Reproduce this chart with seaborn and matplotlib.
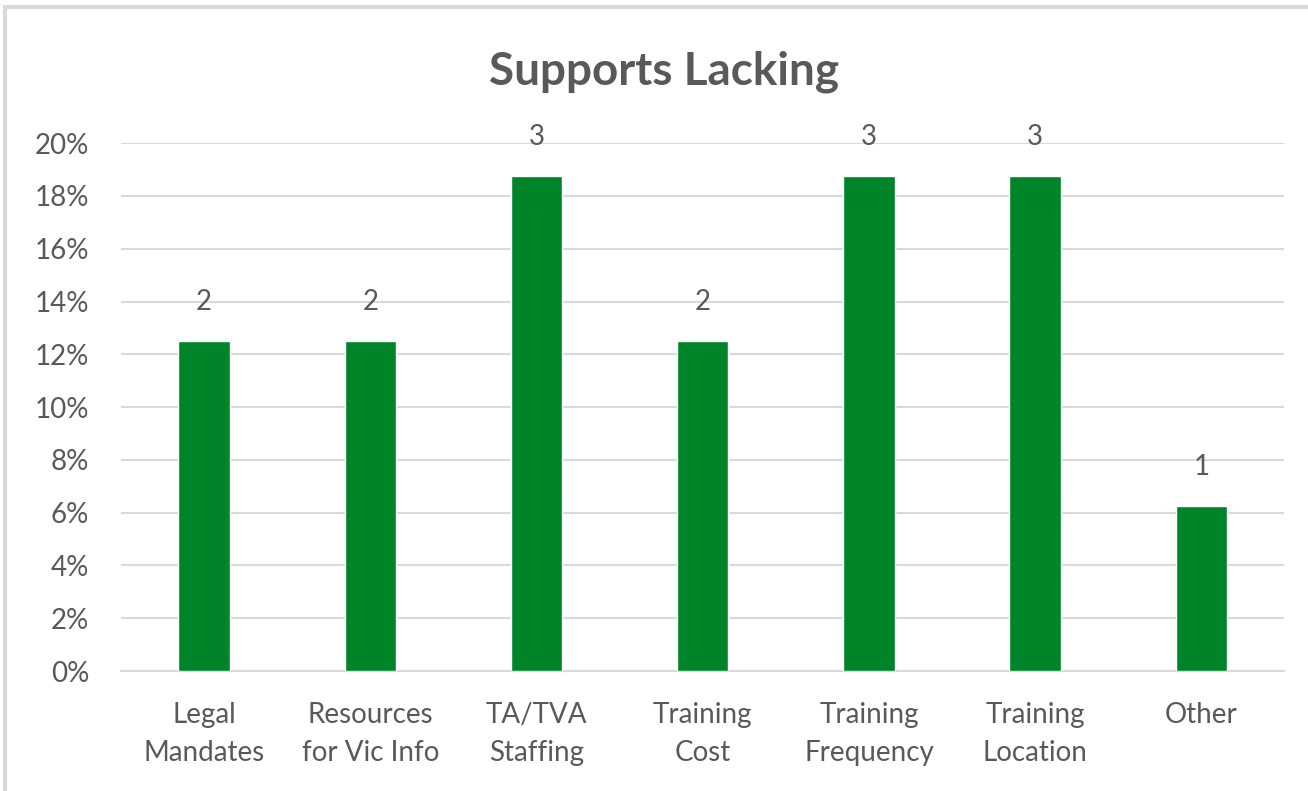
import pandas as pd
import matplotlib.pyplot as plt
import seaborn as sns
from matplotlib.ticker import PercentFormatter

categories = ["Legal\nMandates", "Resources\nfor Vic Info", "TA/TVA\nStaffing", "Training\nCost",
              "Training\nFrequency", "Training\nLocation", "Other"]
counts = [2, 2, 3, 2, 3, 3, 1]
total = 16
pct = [c / total for c in counts]

df = pd.DataFrame({"Support": categories, "Share": pct, "Count": counts})

sns.set_style("white")
plt.rcParams["font.family"] = ["Lato", "DejaVu Sans"]
grey = "#595959"

fig = plt.figure(figsize=(13.08, 7.91), dpi=100)
ax = fig.add_axes([0.0925, 0.1517, 0.8895, 0.6673])

sns.barplot(data=df, x="Support", y="Share", color="#00842A", width=0.31,
            saturation=1, ax=ax, zorder=3)

for bar, c in zip(ax.patches, counts):
    ax.annotate(str(c), (bar.get_x() + bar.get_width() / 2, bar.get_height()),
                xytext=(0, 19), textcoords="offset points", ha="center", va="bottom",
                fontsize=20, color=grey)

ax.set_ylim(0, 0.20)
ax.set_yticks([i / 100 for i in range(0, 21, 2)])
ax.yaxis.set_major_formatter(PercentFormatter(1.0, decimals=0))
ax.grid(axis="y", color="#D9D9D9", linewidth=1.5, zorder=0)
ax.set_axisbelow(True)
for s in ["top", "right", "left"]:
    ax.spines[s].set_visible(False)
ax.spines["bottom"].set_color("#D9D9D9")
ax.spines["bottom"].set_linewidth(1.5)
ax.tick_params(axis="both", length=0, labelsize=20, labelcolor=grey)
ax.tick_params(axis="y", pad=23)
ax.tick_params(axis="x", pad=22)
for t in ax.get_xticklabels():
    t.set_linespacing(1.6)
    t.set_va("top")
ax.set_xlabel("")
ax.set_ylabel("")

fig.text(0.508, 0.909, "Supports Lacking", ha="center", va="center",
         fontsize=33, fontweight="bold", color=grey)

# chart border
fig.patches.append(plt.Rectangle((0.004, -0.02), 1.1, 1.011, transform=fig.transFigure,
                                 fill=False, edgecolor="#D9D9D9", linewidth=3))

fig.savefig("out.png", dpi=100)
